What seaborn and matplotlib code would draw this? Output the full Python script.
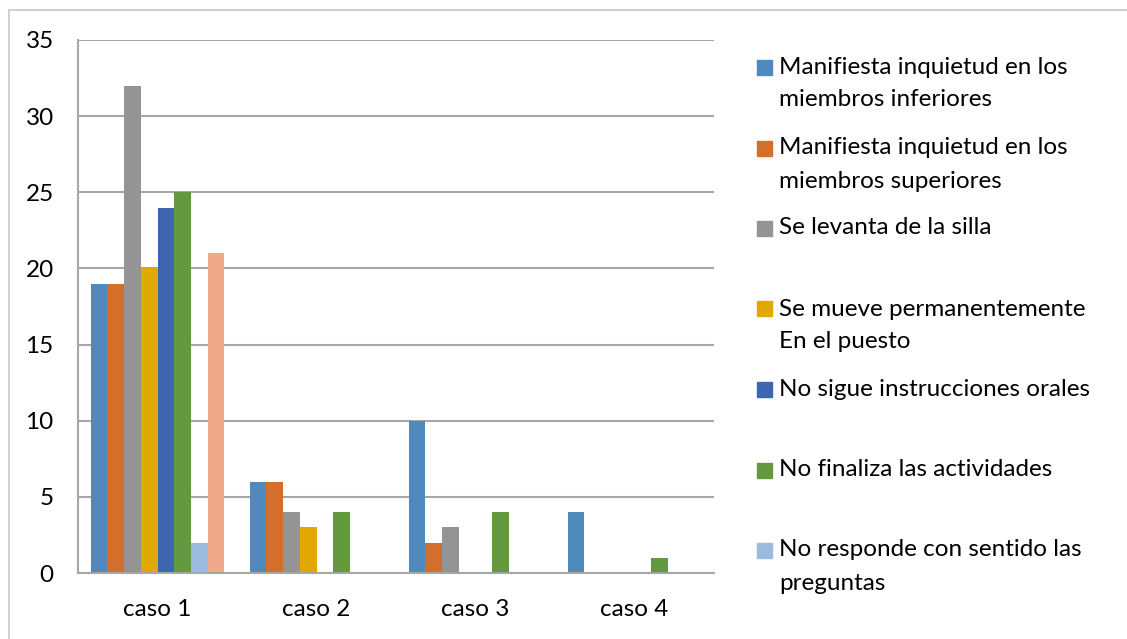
import pandas as pd
import seaborn as sns
import matplotlib.pyplot as plt
from matplotlib.patches import Rectangle
from matplotlib.lines import Line2D

# data
casos = ['caso 1', 'caso 2', 'caso 3', 'caso 4']
series = [
    'Manifiesta inquietud en los\nmiembros inferiores',
    'Manifiesta inquietud en los\nmiembros superiores',
    'Se levanta de la silla',
    'Se mueve permanentemente\nEn el puesto',
    'No sigue instrucciones orales',
    'No finaliza las actividades',
    'No responde con sentido las\npreguntas',
    'Serie 8',
]
inferiores = [19, 6, 10, 4]
superiores = [19, 6, 2, 0]
levanta = [32, 4, 3, 0]
mueve = [20, 3, 0, 0]
instrucciones = [24, 0, 0, 0]
finaliza = [25, 4, 4, 1]
responde = [2, 0, 0, 0]
serie8 = [21, 0, 0, 0]
colors = ['#4f89bd', '#d46e2b', '#949494', '#e0a800',
          '#3c66ae', '#639a3f', '#9bbae0', '#f1a88a']

values = [inferiores, superiores, levanta, mueve, instrucciones, finaliza, responde, serie8]
rows = []
for name, vals in zip(series, values):
    for caso, v in zip(casos, vals):
        rows.append({'caso': caso, 'serie': name, 'valor': v})
df = pd.DataFrame(rows)

sns.set_style('white')
plt.rcParams['font.family'] = ['Lato', 'DejaVu Sans']

W, H = 1127, 639
fig = plt.figure(figsize=(W / 100, H / 100), dpi=100)
ax = fig.add_axes([78 / W, (H - 573) / H, (714 - 78) / W, (573 - 40) / H])

sns.barplot(data=df, x='caso', y='valor', hue='serie', palette=colors,
            saturation=1, width=0.84, gap=0, linewidth=0, ax=ax, legend=False)

ax.set_ylim(0, 35)
ax.set_xlim(-0.5, 3.5)
ax.set_yticks(range(0, 36, 5))
ax.set_xlabel('')
ax.set_ylabel('')
ax.yaxis.grid(True, color='#a6a6a6', linewidth=1.5)
ax.set_axisbelow(True)
for s in ['top', 'right']:
    ax.spines[s].set_visible(False)
for s in ['left', 'bottom']:
    ax.spines[s].set_color('#a6a6a6')
    ax.spines[s].set_linewidth(1.5)
ax.tick_params(axis='y', length=6.5, width=1.5, color='#a6a6a6', pad=11,
               labelsize=17.5, labelcolor='black')
ax.tick_params(axis='x', which='major', length=0, pad=19, labelsize=17.5,
               labelcolor='black')
ax.set_xticks([-0.5, 0.5, 1.5, 2.5, 3.5], minor=True)
ax.tick_params(axis='x', which='minor', length=6.5, width=1.5, color='#a6a6a6')

# legend drawn by hand (Excel style, fixed slots)
slot_y = [67, 148, 228, 309, 389, 470, 550]
for name, c, y in zip(series[:7], colors[:7], slot_y):
    fig.patches.append(Rectangle((757 / W, 1 - (y + 7.5) / H), 15 / W, 15 / H,
                                 transform=fig.transFigure, color=c))
    for i, line in enumerate(name.split('\n')):
        fig.text(779 / W, 1 - (y + i * 33) / H, line, fontsize=17.5,
                 va='center', ha='left', color='black')

# outer frame (top and left only visible)
fig.lines.append(Line2D([9 / W, 1], [1 - 10 / H, 1 - 10 / H], transform=fig.transFigure,
                        color='#c8c8c8', linewidth=1.2))
fig.lines.append(Line2D([9 / W, 9 / W], [0, 1 - 10 / H], transform=fig.transFigure,
                        color='#c8c8c8', linewidth=1.2))

fig.savefig('out.png', dpi=100)
